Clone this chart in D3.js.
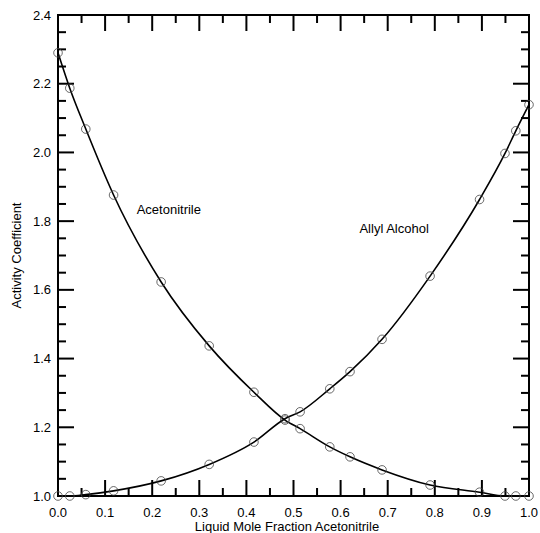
<!DOCTYPE html>
<html>
<head>
<meta charset="utf-8">
<script src="https://cdn.jsdelivr.net/npm/d3@7"></script>
<style>
  body { margin: 0; background: #fff; }
  svg { display: block; font-family: "Liberation Sans", Arial, sans-serif; }
</style>
</head>
<body>
<div id="container"></div>
<script>
// liquid mole fraction of acetonitrile (same for both series)
const xValues = [0.0, 0.025, 0.059, 0.118, 0.219, 0.321, 0.416, 0.482, 0.514, 0.577, 0.620, 0.688, 0.790, 0.895, 0.949, 0.972, 1.0];
const acetonitrile = [2.290, 2.187, 2.068, 1.876, 1.623, 1.437, 1.302, 1.221, 1.196, 1.143, 1.114, 1.076, 1.032, 1.011, 1.0, 1.0, 1.0];
const allylAlcohol = [1.0, 1.0, 1.004, 1.015, 1.044, 1.092, 1.157, 1.225, 1.245, 1.312, 1.362, 1.456, 1.640, 1.863, 1.997, 2.063, 2.139];

const xTickLabels = ['0.0', '0.1', '0.2', '0.3', '0.4', '0.5', '0.6', '0.7', '0.8', '0.9', '1.0'];
const yTickLabels = ['1.0', '1.2', '1.4', '1.6', '1.8', '2.0', '2.2', '2.4'];

const seriesLabels = [
    { name: 'Acetonitrile', x: 0.167, y: 1.82 },
    { name: 'Allyl Alcohol', x: 0.64, y: 1.765 }
];

const width = 540, height = 533;
const margin = { left: 58, right: 11, top: 15, bottom: 37 };
const fontSize = 13;

const x = d3.scaleLinear().domain([0, 1]).range([margin.left, width - margin.right]);
const y = d3.scaleLinear().domain([1.0, 2.4]).range([height - margin.bottom, margin.top]);

const svg = d3.select('#container').append('svg')
    .attr('width', width)
    .attr('height', height);

const x0 = x.range()[0], x1 = x.range()[1];
const y0 = y.range()[0], y1 = y.range()[1];

// ticks pointing inward on all four sides
const xMajor = xTickLabels.map(Number);
const xMinor = d3.range(0.05, 1, 0.1);
const yMajor = yTickLabels.map(Number);
const yMinor = d3.range(1.05, 2.4, 0.05).filter(v => !yMajor.some(m => Math.abs(m - v) < 1e-6));

const ticks = svg.append('g').attr('stroke', '#000').attr('stroke-width', 2);
function xTick(v, len) {
    ticks.append('line').attr('x1', x(v)).attr('x2', x(v)).attr('y1', y0).attr('y2', y0 - len);
    ticks.append('line').attr('x1', x(v)).attr('x2', x(v)).attr('y1', y1).attr('y2', y1 + len);
}
function yTick(v, len) {
    ticks.append('line').attr('y1', y(v)).attr('y2', y(v)).attr('x1', x0).attr('x2', x0 + len);
    ticks.append('line').attr('y1', y(v)).attr('y2', y(v)).attr('x1', x1).attr('x2', x1 - len);
}
xMajor.forEach(v => xTick(v, 16));
xMinor.forEach(v => xTick(v, 8));
yMajor.forEach(v => yTick(v, 16));
yMinor.forEach(v => yTick(v, 8));

svg.append('rect')
    .attr('x', x0).attr('y', y1)
    .attr('width', x1 - x0).attr('height', y0 - y1)
    .attr('fill', 'none').attr('stroke', '#000').attr('stroke-width', 2);

// tick labels
svg.append('g').selectAll('text')
    .data(xTickLabels)
    .enter().append('text')
    .attr('x', d => x(+d))
    .attr('y', y0 + 21)
    .attr('text-anchor', 'middle')
    .attr('font-size', fontSize)
    .text(d => d);

svg.append('g').selectAll('text')
    .data(yTickLabels)
    .enter().append('text')
    .attr('x', x0 - 7)
    .attr('y', d => y(+d) + 4.5)
    .attr('text-anchor', 'end')
    .attr('font-size', fontSize)
    .text(d => d);

// axis titles
svg.append('text')
    .attr('x', 287)
    .attr('y', height - 2)
    .attr('text-anchor', 'middle')
    .attr('font-size', fontSize)
    .text('Liquid Mole Fraction Acetonitrile');

svg.append('text')
    .attr('transform', `translate(21,${(y0 + y1) / 2}) rotate(-90)`)
    .attr('text-anchor', 'middle')
    .attr('font-size', fontSize)
    .text('Activity Coefficient');

// curves and markers
const line = d3.line()
    .x(d => x(d[0]))
    .y(d => y(d[1]))
    .curve(d3.curveMonotoneX);

[acetonitrile, allylAlcohol].forEach(series => {
    const pts = xValues.map((v, i) => [v, series[i]]);
    svg.append('path')
        .attr('d', line(pts))
        .attr('fill', 'none')
        .attr('stroke', '#000')
        .attr('stroke-width', 1.6);
    svg.append('g').selectAll('circle')
        .data(pts)
        .enter().append('circle')
        .attr('cx', d => x(d[0]))
        .attr('cy', d => y(d[1]))
        .attr('r', 4.3)
        .attr('fill', 'none')
        .attr('stroke', '#444')
        .attr('stroke-width', 0.8);
});

// series labels
svg.append('g').selectAll('text')
    .data(seriesLabels)
    .enter().append('text')
    .attr('x', d => x(d.x))
    .attr('y', d => y(d.y))
    .attr('font-size', fontSize)
    .text(d => d.name);
</script>
</body>
</html>
